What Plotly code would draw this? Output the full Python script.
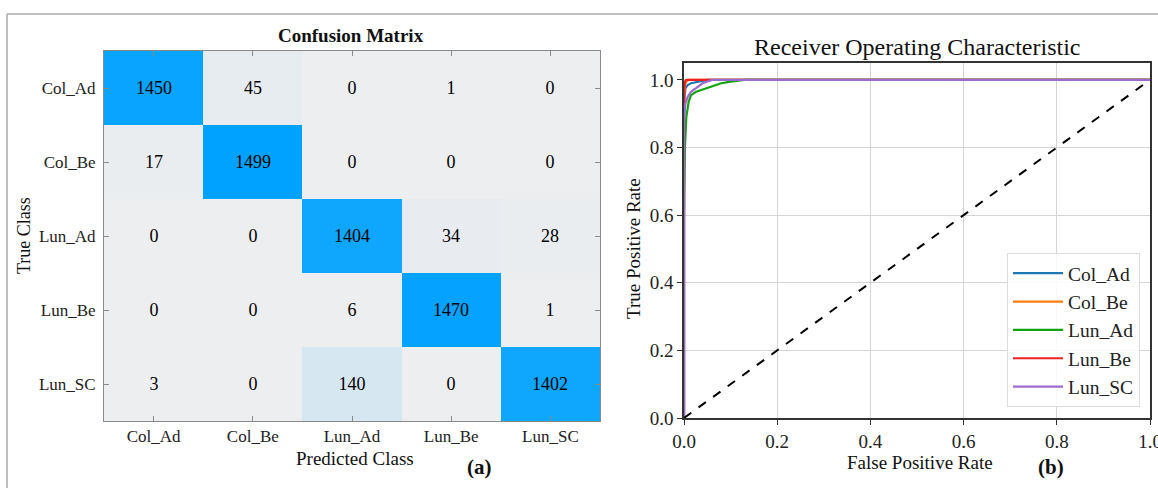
import plotly.graph_objects as go

W, H = 1158, 488

# ---------------- data ----------------
classes = ["Col_Ad", "Col_Be", "Lun_Ad", "Lun_Be", "Lun_SC"]
cm_col_ad = [1450, 45, 0, 1, 0]
cm_col_be = [17, 1499, 0, 0, 0]
cm_lun_ad = [0, 0, 1404, 34, 28]
cm_lun_be = [0, 0, 6, 1470, 1]
cm_lun_sc = [3, 0, 140, 0, 1402]

fpr_col_ad = [0.0, 0.0, 0.003, 0.008, 0.015, 0.03, 0.05, 1.0]
tpr_col_ad = [0.0, 0.93, 0.975, 0.985, 0.99, 0.995, 1.0, 1.0]
fpr_col_be = [0.0, 0.0, 0.002, 0.005, 0.01, 1.0]
tpr_col_be = [0.0, 0.95, 0.985, 0.995, 1.0, 1.0]
fpr_lun_ad = [0.0, 0.0, 0.002, 0.005, 0.01, 0.015, 0.026, 0.04, 0.064, 0.08, 0.1, 0.13, 1.0]
tpr_lun_ad = [0.0, 0.6, 0.8, 0.89, 0.935, 0.955, 0.965, 0.972, 0.982, 0.99, 0.995, 1.0, 1.0]
fpr_lun_be = [0.0, 0.0, 0.002, 0.005, 1.0]
tpr_lun_be = [0.0, 0.96, 0.995, 1.0, 1.0]
fpr_lun_sc = [0.0, 0.0, 0.003, 0.008, 0.015, 0.025, 0.04, 0.06, 1.0]
tpr_lun_sc = [0.0, 0.88, 0.93, 0.95, 0.965, 0.975, 0.99, 1.0, 1.0]

roc_series = [
    ("Col_Ad", fpr_col_ad, tpr_col_ad, "#1f77b4"),
    ("Col_Be", fpr_col_be, tpr_col_be, "#ff7f0e"),
    ("Lun_Ad", fpr_lun_ad, tpr_lun_ad, "#12a312"),
    ("Lun_Be", fpr_lun_be, tpr_lun_be, "#f02020"),
    ("Lun_SC", fpr_lun_sc, tpr_lun_sc, "#9c6bd0"),
]

x_ticks = [0.0, 0.2, 0.4, 0.6, 0.8, 1.0]
y_ticks = [0.0, 0.2, 0.4, 0.6, 0.8, 1.0]

SERIF = "Liberation Serif, Times New Roman, serif"

def px_x(x):
    return x / W

def px_y(y):
    return 1 - y / H

fig = go.Figure()

z = [cm_col_ad, cm_col_be, cm_lun_ad, cm_lun_be, cm_lun_sc]
fig.add_trace(go.Heatmap(
    z=z, x=classes, y=classes,
    colorscale=[[0, "#EDEEF0"], [1, "#00A2FF"]],
    zmin=0, zmax=1499, showscale=False,
    text=z, texttemplate="%{text}",
    textfont=dict(family=SERIF, size=18, color="black"),
    xaxis="x", yaxis="y", hoverinfo="skip",
))

for name, fx, ty, col in roc_series:
    fig.add_trace(go.Scatter(
        x=fx, y=ty, mode="lines", name=name,
        line=dict(color=col, width=2.2),
        xaxis="x2", yaxis="y2",
    ))

fig.add_trace(go.Scatter(
    x=[0, 1], y=[0, 1], mode="lines", showlegend=False,
    line=dict(color="black", width=2, dash="dash"),
    xaxis="x2", yaxis="y2",
))

fig.update_layout(
    width=W, height=H,
    margin=dict(l=0, r=0, t=0, b=0, autoexpand=False),
    paper_bgcolor="white", plot_bgcolor="white",
    font=dict(family=SERIF, color="#222"),
    xaxis=dict(
        domain=[px_x(104), px_x(600)], anchor="y", automargin=False,
        showline=True, linecolor="#8a8a8a", linewidth=1, mirror="ticks",
        ticks="inside", ticklen=5, tickcolor="#8a8a8a",
        tickfont=dict(family=SERIF, size=17, color="#222"),
        showgrid=False, zeroline=False, fixedrange=True,
    ),
    yaxis=dict(
        domain=[px_y(421), px_y(51)], anchor="x", automargin=False,
        autorange="reversed",
        showline=True, linecolor="#8a8a8a", linewidth=1, mirror="ticks",
        ticks="inside", ticklen=5, tickcolor="#8a8a8a",
        tickfont=dict(family=SERIF, size=17, color="#222"),
        showgrid=False, zeroline=False, fixedrange=True,
        ticklabelstandoff=4,
    ),
    xaxis2=dict(
        domain=[px_x(684), px_x(1150)], anchor="y2", automargin=False,
        range=[0, 1.0],
        tickvals=x_ticks, ticktext=[f"{v:.1f}" for v in x_ticks],
        showline=True, linecolor="#333", linewidth=1.5, mirror=True,
        ticks="outside", ticklen=5, tickcolor="#333",
        tickfont=dict(family=SERIF, size=19, color="#222"),
        ticklabeloverflow="allow",
        showgrid=True, gridcolor="#d4d4d4", gridwidth=1, zeroline=False,
    ),
    yaxis2=dict(
        domain=[px_y(418), px_y(63)], anchor="x2", automargin=False,
        range=[0, 1.05],
        tickvals=y_ticks, ticktext=[f"{v:.1f}" for v in y_ticks],
        showline=True, linecolor="#333", linewidth=1.5, mirror=True,
        ticks="outside", ticklen=5, tickcolor="#333",
        tickfont=dict(family=SERIF, size=19, color="#222"),
        showgrid=True, gridcolor="#d4d4d4", gridwidth=1, zeroline=False,
    ),
    legend=dict(
        x=px_x(1140), y=px_y(407), xanchor="right", yanchor="bottom",
        bgcolor="rgba(255,255,255,0.85)", bordercolor="#dddddd", borderwidth=1,
        font=dict(family=SERIF, size=19.5, color="#222"),
        tracegroupgap=0, itemwidth=50,
    ),
    showlegend=True,
)

annotations = [
    dict(text="<b>Confusion Matrix</b>", x=px_x(351), y=px_y(35), size=19),
    dict(text="Predicted Class", x=px_x(355), y=px_y(458), size=19),
    dict(text="True Class", x=px_x(24), y=px_y(236), size=18, angle=-90),
    dict(text="<b>(a)</b>", x=px_x(480), y=px_y(467), size=21),
    dict(text="Receiver Operating Characteristic", x=px_x(917), y=px_y(47), size=24),
    dict(text="False Positive Rate", x=px_x(920), y=px_y(462), size=19),
    dict(text="True Positive Rate", x=px_x(633), y=px_y(249), size=19, angle=-90),
    dict(text="<b>(b)</b>", x=px_x(1051), y=px_y(467), size=21),
]
for a in annotations:
    fig.add_annotation(
        text=a["text"], x=a["x"], y=a["y"], xref="paper", yref="paper",
        xanchor="center", yanchor="middle", showarrow=False,
        textangle=a.get("angle", 0),
        font=dict(family=SERIF, size=a["size"], color="#111"),
    )

# outer gray frame of the figure panel
fig.add_shape(type="line", xref="paper", yref="paper",
              x0=px_x(7), x1=1, y0=px_y(14), y1=px_y(14),
              line=dict(color="#aaaaaa", width=1.5))
fig.add_shape(type="line", xref="paper", yref="paper",
              x0=px_x(7), x1=px_x(7), y0=0, y1=px_y(14),
              line=dict(color="#aaaaaa", width=1.5))

fig.write_html("out.html")
